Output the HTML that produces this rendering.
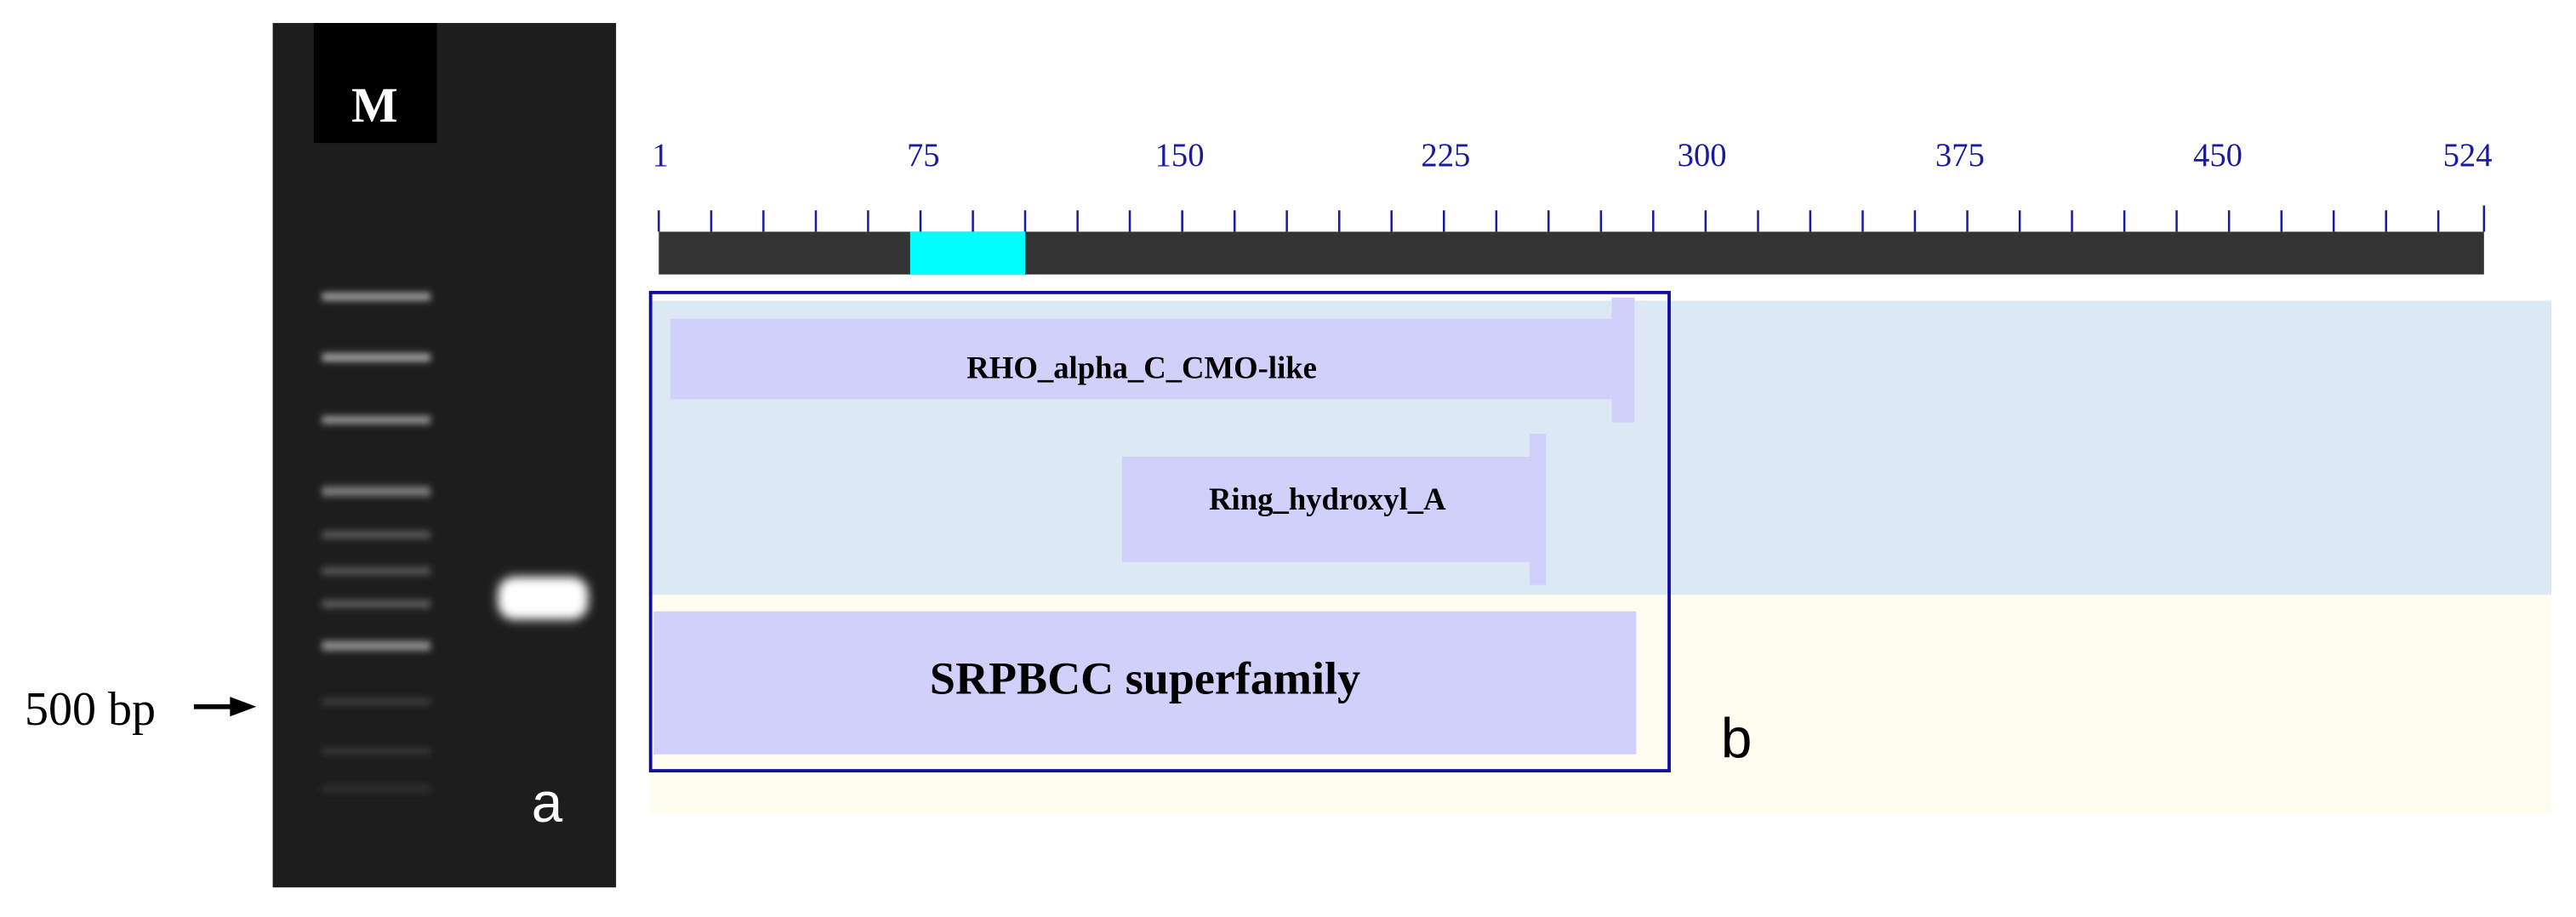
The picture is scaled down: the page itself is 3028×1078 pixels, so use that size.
<!DOCTYPE html>
<html><head><meta charset="utf-8"><style>html,body{margin:0;padding:0;background:#fff}svg{display:block}</style></head>
<body>
<svg width="3028" height="1078" viewBox="0 0 1568 558" preserveAspectRatio="none" xmlns="http://www.w3.org/2000/svg">
<defs>
<filter id="bl" x="-50%" y="-200%" width="200%" height="500%"><feGaussianBlur stdDeviation="2"/></filter>
<filter id="bl2" x="-50%" y="-100%" width="200%" height="300%"><feGaussianBlur stdDeviation="3"/></filter>
</defs>
<rect x="0" y="0" width="1568" height="558" fill="#fff"/>
<!-- gel -->
<rect x="166" y="14" width="209" height="526" fill="#1d1d1d"/>
<rect x="191" y="14" width="75" height="73" fill="#000"/>
<text x="228" y="74" fill="#fff" font-family="Liberation Serif, serif" font-weight="bold" font-size="30" text-anchor="middle">M</text>
<g filter="url(#bl)" fill="#9a9a9a">
<rect x="196" y="178" width="66" height="5"/>
<rect x="196" y="215" width="66" height="5" fill="#a0a0a0"/>
<rect x="196" y="253" width="66" height="5" fill="#909090"/>
<rect x="196" y="296" width="66" height="6" fill="#7a7a7a"/>
<rect x="196" y="323" width="66" height="5" fill="#555"/>
<rect x="196" y="345" width="66" height="5" fill="#555"/>
<rect x="196" y="365" width="66" height="5" fill="#5a5a5a"/>
<rect x="196" y="390" width="66" height="6" fill="#8a8a8a"/>
<rect x="196" y="425" width="66" height="4" fill="#3c3c3c"/>
<rect x="196" y="455" width="66" height="4" fill="#383838"/>
<rect x="196" y="478" width="66" height="4" fill="#333"/>
</g>
<g filter="url(#bl2)"><rect x="303" y="351" width="55" height="26" rx="10" fill="#fff"/></g>
<text x="333" y="500" fill="#fff" font-family="Liberation Sans, sans-serif" font-size="34" text-anchor="middle">a</text>
<text x="15" y="441" fill="#000" font-family="Liberation Serif, serif" font-size="29">500 bp</text>
<line x1="118" y1="430" x2="142" y2="430" stroke="#000" stroke-width="3"/>
<polygon points="140,424 156,430 140,436" fill="#000"/>
<!-- backgrounds -->
<rect x="396" y="183" width="1157" height="179" fill="#dde8f5"/>
<rect x="396" y="362" width="1157" height="133" fill="#fefdf0"/>
<!-- ruler -->
<g font-family="Liberation Serif, serif" font-size="20" fill="#1a1aa0" text-anchor="middle">
<text x="402" y="101">1</text><text x="562" y="101">75</text><text x="718" y="101">150</text><text x="880" y="101">225</text><text x="1036" y="101">300</text><text x="1193" y="101">375</text><text x="1350" y="101">450</text><text x="1502" y="101">524</text>
</g>
<g stroke="#1a1aa0" stroke-width="1.3">
<path d="M401.0 128V141M432.9 128V141M464.7 128V141M496.6 128V141M528.4 128V141M560.3 128V141M592.2 128V141M624.0 128V141M655.9 128V141M687.7 128V141M719.6 128V141M751.5 128V141M783.3 128V141M815.2 128V141M847.0 128V141M878.9 128V141M910.8 128V141M942.6 128V141M974.5 128V141M1006.3 128V141M1038.2 128V141M1070.1 128V141M1101.9 128V141M1133.8 128V141M1165.6 128V141M1197.5 128V141M1229.4 128V141M1261.2 128V141M1293.1 128V141M1324.9 128V141M1356.8 128V141M1388.7 128V141M1420.5 128V141M1452.4 128V141M1484.2 128V141M1512 125V141"/>
</g>
<rect x="401" y="141" width="1111" height="26" fill="#333"/>
<rect x="554" y="141" width="70" height="26" fill="#00ffff"/>
<!-- domains -->
<rect x="408" y="194" width="580" height="49" fill="#d0d0fa"/>
<rect x="981" y="181" width="14" height="76" fill="#d0d0fa"/>
<text x="695" y="230" font-family="Liberation Serif, serif" font-weight="bold" font-size="19" text-anchor="middle" fill="#000">RHO_alpha_C_CMO-like</text>
<rect x="683" y="278" width="252" height="64" fill="#d0d0fa"/>
<rect x="931" y="264" width="10" height="92" fill="#d0d0fa"/>
<text x="808" y="310" font-family="Liberation Serif, serif" font-weight="bold" font-size="19" text-anchor="middle" fill="#000">Ring_hydroxyl_A</text>
<rect x="398" y="372" width="598" height="87" fill="#d0d0fa"/>
<text x="697" y="422" font-family="Liberation Serif, serif" font-weight="bold" font-size="28" text-anchor="middle" fill="#000">SRPBCC superfamily</text>
<rect x="396" y="178" width="620" height="291" fill="none" stroke="#1010a0" stroke-width="2"/>
<text x="1057" y="461" font-family="Liberation Sans, sans-serif" font-size="34" text-anchor="middle" fill="#000">b</text>
</svg>
</body></html>
